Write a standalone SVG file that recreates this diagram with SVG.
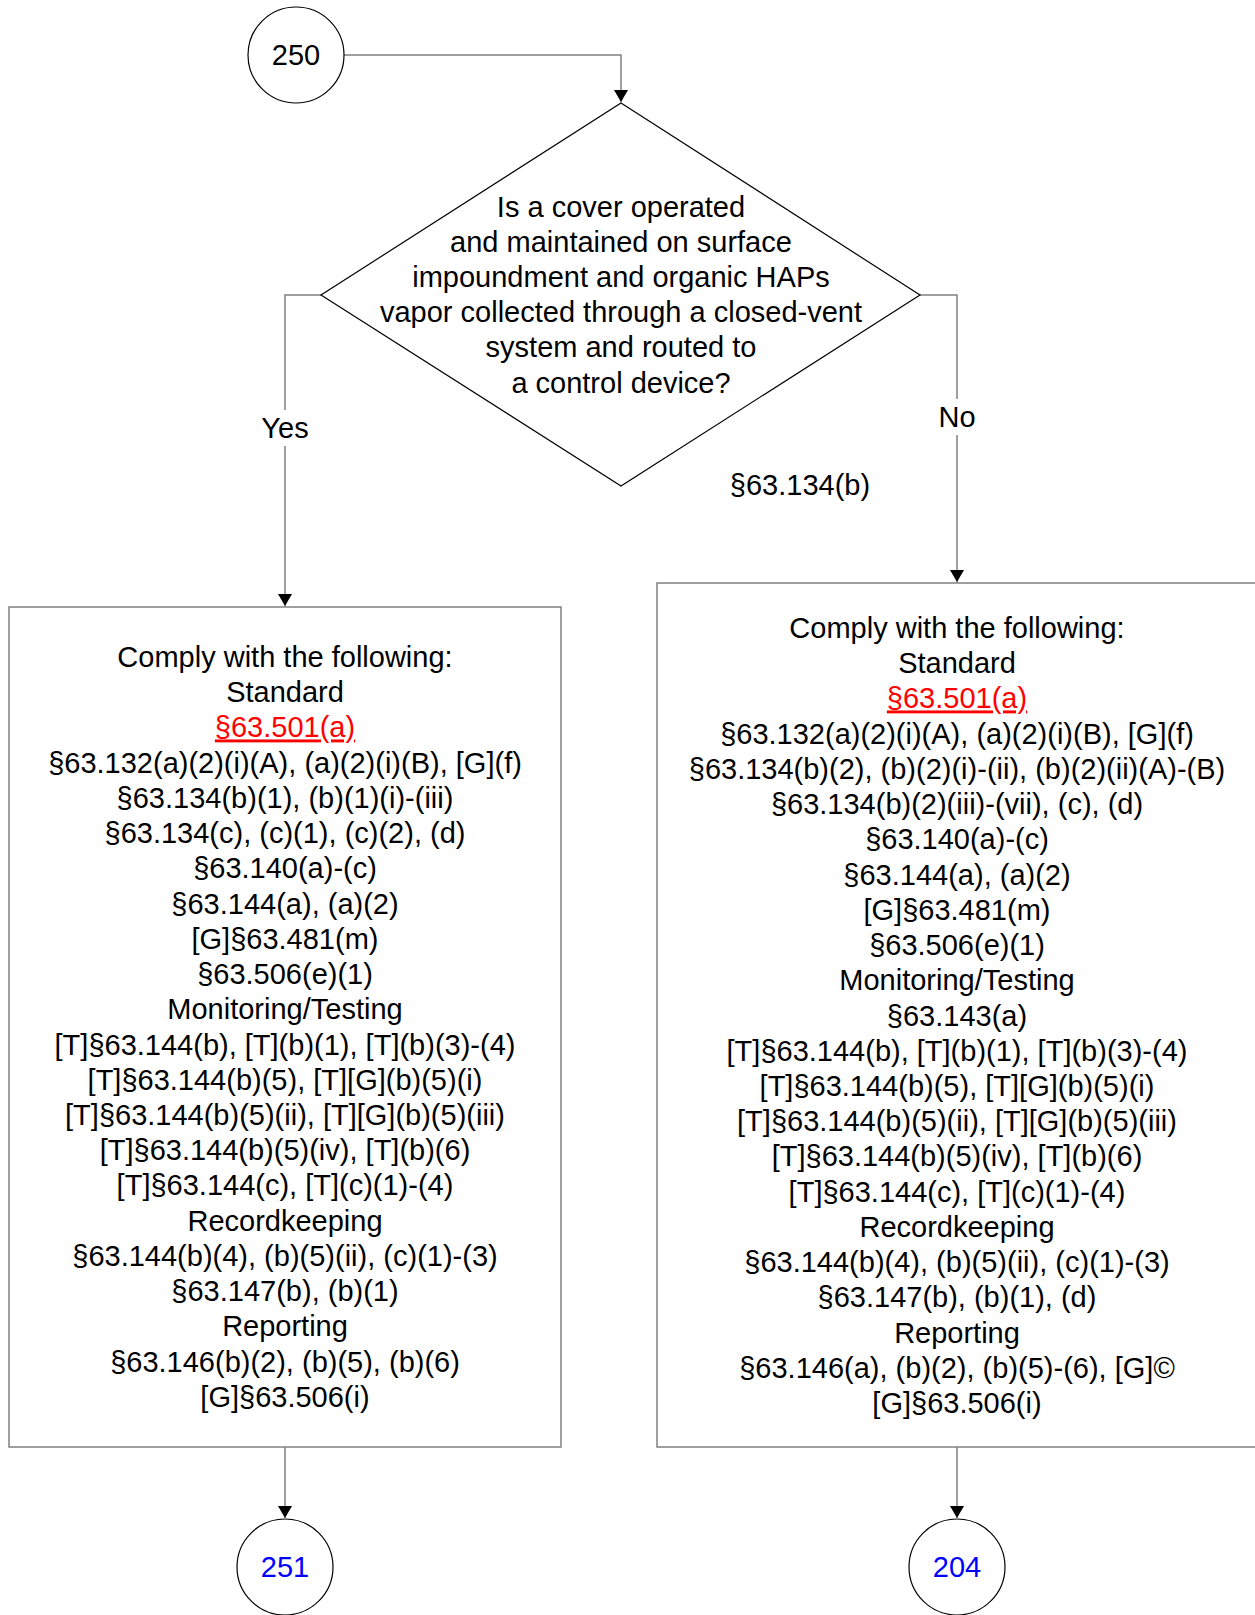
<svg xmlns="http://www.w3.org/2000/svg" width="1255" height="1615" viewBox="0 0 1255 1615">
<style>
text{font-family:"Liberation Sans",Arial,sans-serif;font-size:29px;fill:#000;text-anchor:middle}
.node{fill:#fff;stroke:#000;stroke-width:1.2}
.box{fill:#fff;stroke:#808080;stroke-width:1.5}
.conn{fill:none;stroke:#808080;stroke-width:1.5}
.red{fill:#ff0000;text-decoration:underline}
.blue{fill:#0000ff}
</style>
<defs>
<marker id="arr" markerWidth="12" markerHeight="14" refX="12" refY="7" orient="auto" markerUnits="userSpaceOnUse">
<path d="M0,0 L12,7 L0,14 z" fill="#000"/>
</marker>
</defs>
<rect width="1255" height="1615" fill="#fff"/>
<g id="connectors">
<path class="conn" d="M344,55 H621 V102" marker-end="url(#arr)"/>
<path class="conn" d="M321,295 H285 V606" marker-end="url(#arr)"/>
<path class="conn" d="M920,295 H957 V582" marker-end="url(#arr)"/>
<path class="conn" d="M285,1447 V1518" marker-end="url(#arr)"/>
<path class="conn" d="M957,1447 V1518" marker-end="url(#arr)"/>
<rect x="255" y="410" width="60" height="36" fill="#fff"/>
<rect x="933" y="399" width="48" height="36" fill="#fff"/>
<text x="285" y="438">Yes</text>
<text x="957" y="427">No</text>
<text x="800" y="495">§63.134(b)</text>
</g>
<g id="n250">
<circle class="node" cx="296" cy="55" r="48"/>
<text x="296" y="65">250</text>
</g>
<g id="decision">
<polygon class="node" points="621,103 920,295 621,486 321,295"/>
<text x="621" y="216.5">Is a cover operated<tspan x="621" dy="35.23">and maintained on surface</tspan><tspan x="621" dy="35.23">impoundment and organic HAPs</tspan><tspan x="621" dy="35.23">vapor collected through a closed-vent</tspan><tspan x="621" dy="35.23">system and routed to</tspan><tspan x="621" dy="35.23">a control device?</tspan></text>
</g>
<g id="leftbox">
<rect class="box" x="9" y="607" width="552" height="840"/>
<text x="285" y="667">Comply with the following:<tspan x="285" dy="35.23">Standard</tspan><tspan x="285" dy="35.23" class="red">§63.501(a)</tspan><tspan x="285" dy="35.23">§63.132(a)(2)(i)(A), (a)(2)(i)(B), [G](f)</tspan><tspan x="285" dy="35.23">§63.134(b)(1), (b)(1)(i)-(iii)</tspan><tspan x="285" dy="35.23">§63.134(c), (c)(1), (c)(2), (d)</tspan><tspan x="285" dy="35.23">§63.140(a)-(c)</tspan><tspan x="285" dy="35.23">§63.144(a), (a)(2)</tspan><tspan x="285" dy="35.23">[G]§63.481(m)</tspan><tspan x="285" dy="35.23">§63.506(e)(1)</tspan><tspan x="285" dy="35.23">Monitoring/Testing</tspan><tspan x="285" dy="35.23">[T]§63.144(b), [T](b)(1), [T](b)(3)-(4)</tspan><tspan x="285" dy="35.23">[T]§63.144(b)(5), [T][G](b)(5)(i)</tspan><tspan x="285" dy="35.23">[T]§63.144(b)(5)(ii), [T][G](b)(5)(iii)</tspan><tspan x="285" dy="35.23">[T]§63.144(b)(5)(iv), [T](b)(6)</tspan><tspan x="285" dy="35.23">[T]§63.144(c), [T](c)(1)-(4)</tspan><tspan x="285" dy="35.23">Recordkeeping</tspan><tspan x="285" dy="35.23">§63.144(b)(4), (b)(5)(ii), (c)(1)-(3)</tspan><tspan x="285" dy="35.23">§63.147(b), (b)(1)</tspan><tspan x="285" dy="35.23">Reporting</tspan><tspan x="285" dy="35.23">§63.146(b)(2), (b)(5), (b)(6)</tspan><tspan x="285" dy="35.23">[G]§63.506(i)</tspan></text>
</g>
<g id="rightbox">
<rect class="box" x="657" y="583" width="600" height="864"/>
<text x="957" y="638">Comply with the following:<tspan x="957" dy="35.23">Standard</tspan><tspan x="957" dy="35.23" class="red">§63.501(a)</tspan><tspan x="957" dy="35.23">§63.132(a)(2)(i)(A), (a)(2)(i)(B), [G](f)</tspan><tspan x="957" dy="35.23">§63.134(b)(2), (b)(2)(i)-(ii), (b)(2)(ii)(A)-(B)</tspan><tspan x="957" dy="35.23">§63.134(b)(2)(iii)-(vii), (c), (d)</tspan><tspan x="957" dy="35.23">§63.140(a)-(c)</tspan><tspan x="957" dy="35.23">§63.144(a), (a)(2)</tspan><tspan x="957" dy="35.23">[G]§63.481(m)</tspan><tspan x="957" dy="35.23">§63.506(e)(1)</tspan><tspan x="957" dy="35.23">Monitoring/Testing</tspan><tspan x="957" dy="35.23">§63.143(a)</tspan><tspan x="957" dy="35.23">[T]§63.144(b), [T](b)(1), [T](b)(3)-(4)</tspan><tspan x="957" dy="35.23">[T]§63.144(b)(5), [T][G](b)(5)(i)</tspan><tspan x="957" dy="35.23">[T]§63.144(b)(5)(ii), [T][G](b)(5)(iii)</tspan><tspan x="957" dy="35.23">[T]§63.144(b)(5)(iv), [T](b)(6)</tspan><tspan x="957" dy="35.23">[T]§63.144(c), [T](c)(1)-(4)</tspan><tspan x="957" dy="35.23">Recordkeeping</tspan><tspan x="957" dy="35.23">§63.144(b)(4), (b)(5)(ii), (c)(1)-(3)</tspan><tspan x="957" dy="35.23">§63.147(b), (b)(1), (d)</tspan><tspan x="957" dy="35.23">Reporting</tspan><tspan x="957" dy="35.23">§63.146(a), (b)(2), (b)(5)-(6), [G]©</tspan><tspan x="957" dy="35.23">[G]§63.506(i)</tspan></text>
</g>
<g id="n251">
<circle class="node" cx="285" cy="1567" r="48"/>
<text x="285" y="1577" class="blue">251</text>
</g>
<g id="n204">
<circle class="node" cx="957" cy="1567" r="48"/>
<text x="957" y="1577" class="blue">204</text>
</g>
</svg>
